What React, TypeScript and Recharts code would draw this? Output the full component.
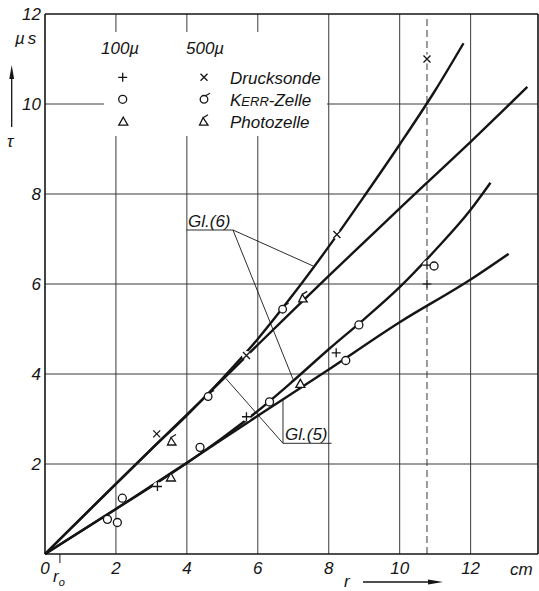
import React from 'react';
import { ComposedChart, Line, Scatter, XAxis, YAxis, ReferenceLine } from 'recharts';

// axis / grid values
const X_TICKS = [0, 2, 4, 6, 8, 10, 12];
const Y_TICKS = [2, 4, 6, 8, 10, 12];
const GRID_R = [2, 4, 6, 8, 10, 12];
const GRID_T = [2, 4, 6, 8, 10];
const R_MAX = 13.9;
const T_MAX = 12;
const R_DASHED = 10.77;
const R_ZERO = 0.42;

// curves [r (cm), tau (µs)]
const curveA: [number, number][] = [
  [0, 0], [1, 0.78], [2, 1.56], [3, 2.33], [4, 3.08], [5, 3.9], [6, 4.78], [7, 5.77],
  [8, 6.83], [9, 7.95], [10, 9.1], [11, 10.3], [11.8, 11.35],
];
const curveB: [number, number][] = [
  [0, 0], [2, 1.56], [4, 3.1], [5, 3.87], [6, 4.65], [7, 5.42], [8, 6.18], [9, 6.93],
  [10, 7.68], [11, 8.42], [12, 9.16], [13, 9.92], [13.6, 10.38],
];
const curveC: [number, number][] = [
  [0, 0], [1, 0.5], [2, 1.0], [3, 1.5], [4, 2.02], [5, 2.58], [6, 3.18], [7, 3.85],
  [8, 4.55], [9, 5.22], [10, 5.93], [11, 6.75], [12, 7.65], [12.56, 8.25],
];
const curveD: [number, number][] = [
  [0, 0], [2, 1.0], [4, 2.03], [6, 3.07], [8, 4.1], [10, 5.15], [12, 6.1], [13.07, 6.67],
];

// measured points
const druck100: [number, number][] = [[3.17, 1.5], [5.68, 3.05], [8.21, 4.47], [10.77, 6.0], [10.77, 6.42]];
const druck500: [number, number][] = [[3.15, 2.67], [5.68, 4.41], [8.23, 7.1], [10.77, 11.0]];
const kerr100: [number, number][] = [
  [1.76, 0.77], [2.04, 0.7], [2.18, 1.24], [4.37, 2.37], [6.33, 3.38], [8.48, 4.3], [8.85, 5.09], [10.97, 6.4],
];
const kerr500: [number, number][] = [[4.6, 3.5], [6.7, 5.44]];
const photo100: [number, number][] = [[3.55, 1.7], [7.2, 3.78]];
const photo500: [number, number][] = [[3.58, 2.5], [7.28, 5.68]];

// leader lines for the equation labels
const gl6Under: [number, number][] = [[3.99, 7.2], [5.3, 7.2]];
const gl6Leaders: [number, number][][] = [[[5.3, 7.2], [7.56, 6.4]], [[5.3, 7.2], [7.0, 3.87]]];
const gl5Under: [number, number][] = [[6.71, 2.46], [8.08, 2.46]];
const gl5Leaders: [number, number][][] = [[[6.71, 2.46], [5.1, 3.9]], [[6.71, 2.46], [6.71, 3.42]]];

const INK = '#151515';
const GRID = '#3a3a3a';
const FONT = '"Liberation Sans", Arial, sans-serif';

const pts = (a: [number, number][]) => a.map(([r, t]) => ({ r, t }));
const seg = (a: [number, number][]) => a.map(([x, y]) => ({ x, y }));

const PlusMark = ({ cx, cy }: any) => (
  <g>
    <circle cx={cx} cy={cy} r={4.5} fill="#fff" />
    <path d={`M${cx - 4.5},${cy}H${cx + 4.5}M${cx},${cy - 4.5}V${cy + 4.5}`} stroke={INK} strokeWidth={1.3} />
  </g>
);
const CrossMark = ({ cx, cy }: any) => (
  <g>
    <circle cx={cx} cy={cy} r={4.5} fill="#fff" />
    <path d={`M${cx - 3.5},${cy - 3.5}L${cx + 3.5},${cy + 3.5}M${cx + 3.5},${cy - 3.5}L${cx - 3.5},${cy + 3.5}`} stroke={INK} strokeWidth={1.3} />
  </g>
);
const CircleMark = ({ cx, cy }: any) => (
  <circle cx={cx} cy={cy} r={4} fill="#fff" stroke={INK} strokeWidth={1.3} />
);
const SigmaMark = ({ cx, cy }: any) => (
  <g>
    <circle cx={cx} cy={cy} r={3.8} fill="#fff" stroke={INK} strokeWidth={1.3} />
    <path d={`M${cx + 1.5},${cy - 3.6}L${cx + 6},${cy - 6}`} stroke={INK} strokeWidth={1.3} />
  </g>
);
const TriMark = ({ cx, cy }: any) => (
  <polygon points={`${cx},${cy - 4.5} ${cx + 4.5},${cy + 3.5} ${cx - 4.5},${cy + 3.5}`} fill="#fff" stroke={INK} strokeWidth={1.3} />
);
const TriTailMark = ({ cx, cy }: any) => (
  <g>
    <polygon points={`${cx - 1},${cy - 4} ${cx + 4},${cy + 3.5} ${cx - 4.5},${cy + 3.5}`} fill="#fff" stroke={INK} strokeWidth={1.3} />
    <path d={`M${cx - 1},${cy - 4}L${cx + 4},${cy - 7}`} stroke={INK} strokeWidth={1.3} />
  </g>
);

const txt = { fontFamily: FONT, fontStyle: 'italic' as const, fontSize: 17, fill: INK };

export default function App() {
  return (
    <div style={{ position: 'absolute', left: 0, top: 0, width: 539, height: 591, background: '#fff' }}>
      <ComposedChart width={539} height={591} margin={{ top: 14, right: 1, left: 0, bottom: 0 }}>
        <XAxis
          type="number"
          dataKey="r"
          domain={[0, R_MAX]}
          ticks={X_TICKS}
          interval={0}
          height={37}
          tickLine={false}
          axisLine={{ stroke: INK, strokeWidth: 1.6 }}
          tick={txt}
        />
        <YAxis
          type="number"
          dataKey="t"
          domain={[0, T_MAX]}
          ticks={Y_TICKS}
          interval={0}
          width={45}
          tickSize={2}
          tickMargin={2}
          tickLine={false}
          axisLine={{ stroke: INK, strokeWidth: 1.6 }}
          tick={txt}
        />
        {GRID_R.map((r) => (
          <ReferenceLine key={'gr' + r} x={r} stroke={GRID} strokeWidth={1} />
        ))}
        {GRID_T.map((t) => (
          <ReferenceLine key={'gt' + t} y={t} stroke={GRID} strokeWidth={1} />
        ))}
        <ReferenceLine y={T_MAX} stroke={INK} strokeWidth={1.6} />
        <ReferenceLine x={R_MAX} stroke={INK} strokeWidth={1.6} />
        <ReferenceLine x={R_DASHED} stroke={GRID} strokeWidth={1} strokeDasharray="7 4" />
        <ReferenceLine segment={[{ x: R_ZERO, y: 0 }, { x: R_ZERO, y: -0.2 }]} ifOverflow="visible" stroke={INK} strokeWidth={1} />

        <ReferenceLine segment={seg(gl6Under)} stroke={INK} strokeWidth={0.9} />
        {gl6Leaders.map((l, i) => (
          <ReferenceLine key={'l6' + i} segment={seg(l)} stroke={INK} strokeWidth={0.9} />
        ))}
        <ReferenceLine segment={seg(gl5Under)} stroke={INK} strokeWidth={0.9} />
        {gl5Leaders.map((l, i) => (
          <ReferenceLine key={'l5' + i} segment={seg(l)} stroke={INK} strokeWidth={0.9} />
        ))}

        {[curveA, curveB, curveC, curveD].map((c, i) => (
          <Line
            key={'c' + i}
            data={pts(c)}
            dataKey="t"
            type="monotone"
            stroke={INK}
            strokeWidth={2.4}
            dot={false}
            activeDot={false}
            isAnimationActive={false}
          />
        ))}

        <Scatter data={pts(druck100)} dataKey="t" shape={PlusMark} isAnimationActive={false} />
        <Scatter data={pts(druck500)} dataKey="t" shape={CrossMark} isAnimationActive={false} />
        <Scatter data={pts(kerr100)} dataKey="t" shape={CircleMark} isAnimationActive={false} />
        <Scatter data={pts(kerr500)} dataKey="t" shape={SigmaMark} isAnimationActive={false} />
        <Scatter data={pts(photo100)} dataKey="t" shape={TriMark} isAnimationActive={false} />
        <Scatter data={pts(photo500)} dataKey="t" shape={TriTailMark} isAnimationActive={false} />
      </ComposedChart>

      <svg width={539} height={591} style={{ position: 'absolute', left: 0, top: 0, pointerEvents: 'none' }}>
        <rect x={104} y={32} width={223} height={104} fill="#fff" />
        <text x={101} y={54} {...txt}>100µ</text>
        <text x={186} y={54} {...txt}>500µ</text>
        <PlusMark cx={122.7} cy={77.3} />
        <CircleMark cx={122.7} cy={99.3} />
        <TriMark cx={123.3} cy={121.7} />
        <CrossMark cx={204} cy={77.3} />
        <SigmaMark cx={204} cy={99.3} />
        <TriTailMark cx={204} cy={121.7} />
        <text x={230} y={83.5} {...txt}>Drucksonde</text>
        <text x={230} y={105.5} {...txt}>K<tspan fontSize={13}>ERR</tspan>-Zelle</text>
        <text x={230} y={128} {...txt}>Photozelle</text>

        <text x={188} y={227} {...txt}>Gl.(6)</text>
        <text x={285} y={440} {...txt}>Gl.(5)</text>

        <text x={15} y={44} {...txt} letterSpacing={3}>µs</text>
        <line x1={11.7} y1={78} x2={11.7} y2={127} stroke={INK} strokeWidth={1.3} />
        <polygon points="11.7,65 9.3,79 14.1,79" fill={INK} />
        <text x={7} y={147} {...txt}>τ</text>

        <text x={53} y={582} {...txt}>r<tspan fontSize={11} dy={4}>o</tspan></text>
        <text x={510} y={575} {...txt}>cm</text>
        <text x={344} y={587} {...txt}>r</text>
        <line x1={363} y1={582} x2={430} y2={582} stroke={INK} strokeWidth={1.3} />
        <polygon points="443,582 428,579.6 428,584.4" fill={INK} />
      </svg>
    </div>
  );
}
